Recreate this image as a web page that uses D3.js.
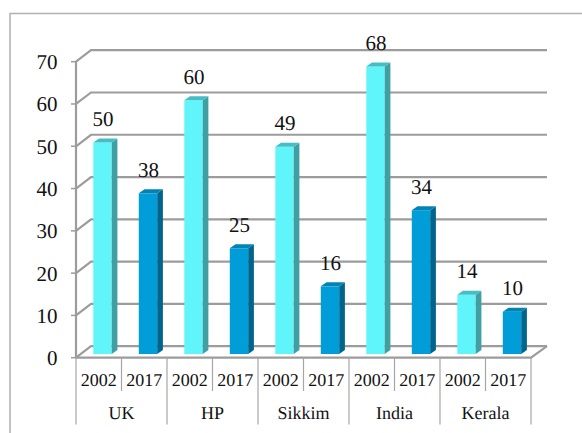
<!DOCTYPE html>
<html>
<head>
  <meta charset="UTF-8">
  <style>
    body { margin: 0; background: #fff; }
    text { font-family: "Liberation Serif", "Times New Roman", serif; fill: #111; text-rendering: geometricPrecision; }
    .tick-label { font-size: 21px; }
    .val { font-size: 21px; }
    .year { font-size: 18px; }
    .cat { font-size: 18px; }
  </style>
  <script src="https://d3js.org/d3.v7.min.js"></script>
</head>
<body>
<svg id="chart" style="display:block"></svg>
<script>
const categories = ['UK', 'HP', 'Sikkim', 'India', 'Kerala'];
const years = ['2002', '2017'];
const values2002 = [50, 60, 49, 68, 14];
const values2017 = [38, 25, 16, 34, 10];
const yTicks = [0, 10, 20, 30, 40, 50, 60, 70];

const svg = d3.select('#chart').attr('width', 582).attr('height', 433);

// frame
svg.append('rect').attr('x', 10).attr('y', 13.5).attr('width', 600).attr('height', 450)
  .attr('fill', 'none').attr('stroke', '#b0b0b0').attr('stroke-width', 1.5);

const left = 76, right = 531;
const wallX = 15, wallY = 11.5;   // back wall offset
const barDx = 5.7, barDy = 4;     // bar depth

const yScale = d3.scaleLinear().domain([0, 70]).range([357.7, 61.7]);
const slots = categories.flatMap(c => years.map(y => c + '-' + y));
const xScale = d3.scaleBand().domain(slots).range([left, right]);
const xCat = d3.scaleBand().domain(categories).range([left, right]);

const gridColor = '#9c9c9c';
const grid = svg.append('g').attr('fill', 'none').attr('stroke', gridColor).attr('stroke-width', 2.2);

// gridlines on the back wall plus the diagonal on the side wall
grid.selectAll('path').data(yTicks).enter().append('path')
  .attr('d', d => {
    const y = yScale(d);
    return 'M' + left + ',' + y + 'L' + (left + wallX) + ',' + (y - wallY) + 'L' + (right + wallX + 1) + ',' + (y - wallY);
  });
// axis line and floor
grid.append('path').attr('d', 'M' + left + ',' + yScale(70) + 'V' + yScale(0));
grid.append('path').attr('d', 'M' + left + ',' + yScale(0) + 'H' + right + 'L' + (right + wallX + 1) + ',' + (yScale(0) - wallY));

// ticks
svg.append('g').selectAll('line').data(yTicks).enter().append('line')
  .attr('x1', left - 5).attr('x2', left)
  .attr('y1', d => yScale(d)).attr('y2', d => yScale(d))
  .attr('stroke', gridColor).attr('stroke-width', 1.5);
svg.append('g').selectAll('text').data(yTicks).enter().append('text')
  .attr('class', 'tick-label')
  .attr('x', 57.5).attr('y', d => yScale(d) + 7.5)
  .attr('text-anchor', 'end')
  .text(d => d);

// bars
const barData = categories.flatMap((c, i) => [
  { slot: c + '-2002', value: values2002[i], front: '#5ff5fb', side: '#3f9fa3', top: '#45bdc2' },
  { slot: c + '-2017', value: values2017[i], front: '#009dd9', side: '#00658d', top: '#0083b5' }
]);
const barW = 18.4, barOff = 17.3, barShift = -3.7;
const bars = svg.append('g').selectAll('g').data(barData).enter().append('g');
bars.append('rect').attr('fill', d => d.front)
  .attr('x', d => xScale(d.slot) + barOff).attr('width', barW)
  .attr('y', d => yScale(d.value) + barShift)
  .attr('height', d => yScale(0) - yScale(d.value));
bars.append('path').attr('fill', d => d.side)
  .attr('d', d => {
    const x = xScale(d.slot) + barOff + barW, y1 = yScale(d.value) + barShift, y0 = yScale(0) + barShift;
    return 'M' + x + ',' + y1 + 'l' + barDx + ',' + (-barDy) + 'V' + (y0 - barDy) + 'L' + x + ',' + y0 + 'Z';
  });
bars.append('path').attr('fill', d => d.top)
  .attr('d', d => {
    const x = xScale(d.slot) + barOff, y1 = yScale(d.value) + barShift;
    return 'M' + x + ',' + y1 + 'l' + barDx + ',' + (-barDy) + 'h' + barW + 'l' + (-barDx) + ',' + barDy + 'Z';
  });
bars.append('text').attr('class', 'val')
  .attr('x', d => xScale(d.slot) + barOff + barW / 2 + 0.5)
  .attr('y', d => yScale(d.value) + barShift - 16.4)
  .attr('text-anchor', 'middle')
  .text(d => d.value);

// multi level category axis
const axisY = yScale(0);
const sep = svg.append('g').attr('stroke', '#a6a6a6').attr('stroke-width', 1.2);
slots.forEach((s, i) => {
  if (i % 2 === 1) sep.append('line').attr('x1', xScale(s)).attr('x2', xScale(s)).attr('y1', axisY).attr('y2', 391);
});
categories.concat(['end']).forEach(c => {
  const x = c === 'end' ? right : xCat(c);
  sep.append('line').attr('x1', x).attr('x2', x).attr('y1', axisY).attr('y2', 424.5);
});
svg.append('g').selectAll('text').data(slots).enter().append('text')
  .attr('class', 'year')
  .attr('x', d => xScale(d) + xScale.bandwidth() / 2)
  .attr('y', 385.5)
  .attr('text-anchor', 'middle')
  .text(d => d.split('-')[1]);
svg.append('g').selectAll('text').data(categories).enter().append('text')
  .attr('class', 'cat')
  .attr('x', d => xCat(d) + xCat.bandwidth() / 2)
  .attr('y', 419)
  .attr('text-anchor', 'middle')
  .text(d => d);
</script>
</body>
</html>
